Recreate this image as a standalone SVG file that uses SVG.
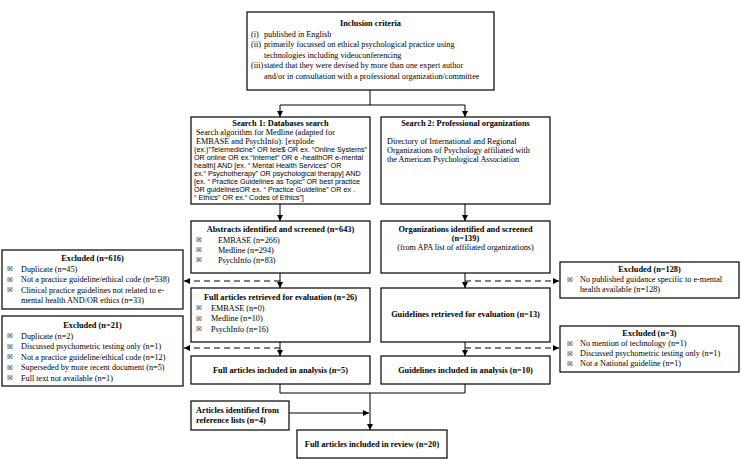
<svg xmlns="http://www.w3.org/2000/svg" width="742" height="460" viewBox="0 0 742 460">
<style>
.bx{fill:#fff;stroke:#000;stroke-width:1.2}
.t{font-family:"Liberation Serif",serif;font-size:8.2px;fill:#000}
.b{font-weight:bold;font-size:8.3px}
.s{font-family:"Liberation Sans",sans-serif;font-size:7.2px;fill:#000}
.c{text-anchor:middle}
.u{font-family:"DejaVu Sans",sans-serif;font-size:6.5px;fill:#000}
.ln{fill:none;stroke:#000;stroke-width:1}
.d{stroke-dasharray:6 4}
</style>
<defs>
<marker id="ah" viewBox="0 0 6 6" refX="6" refY="3" markerWidth="6" markerHeight="6" markerUnits="userSpaceOnUse" orient="auto">
<path d="M0,0 L6,3 L0,6 z" fill="#000"/>
</marker>
</defs>

<g id="connectors">
<path class="ln" d="M370,90 V105 M280,105 H465"/>
<path class="ln" d="M280,105 V117" marker-end="url(#ah)"/>
<path class="ln" d="M465,105 V117" marker-end="url(#ah)"/>
<path class="ln" d="M280,204 V221" marker-end="url(#ah)"/>
<path class="ln" d="M465,204 V221" marker-end="url(#ah)"/>
<path class="ln" d="M280,273 V288" marker-end="url(#ah)"/>
<path class="ln" d="M465,273 V288" marker-end="url(#ah)"/>
<path class="ln d" d="M280,281 H184" marker-end="url(#ah)"/>
<path class="ln d" d="M465,281 H559" marker-end="url(#ah)"/>
<path class="ln" d="M280,342 V356" marker-end="url(#ah)"/>
<path class="ln" d="M465,342 V356" marker-end="url(#ah)"/>
<path class="ln d" d="M280,348 H184" marker-end="url(#ah)"/>
<path class="ln d" d="M465,348 H559" marker-end="url(#ah)"/>
<path class="ln" d="M280,384 V393 H465 V384"/>
<path class="ln" d="M370,393 V430" marker-end="url(#ah)"/>
<path class="ln" d="M289,413 H369" marker-end="url(#ah)"/>
</g>

<g id="inclusion">
<rect class="bx" x="247" y="12" width="247" height="78"/>
<text class="t b c" x="370.5" y="25.5">Inclusion criteria</text>
<text class="t" x="251" y="36.5">(i)</text><text class="t" x="264" y="36.5">published in English</text>
<text class="t" x="251" y="47">(ii)</text><text class="t" x="264" y="47">primarily focussed on ethical psychological practice using</text>
<text class="t" x="264" y="57.5">technologies including videoconferencing</text>
<text class="t" x="251" y="68">(iii)</text><text class="t" x="264" y="68">stated that they were devised by more than one expert author</text>
<text class="t" x="264" y="78.5">and/or in consultation with a professional organization/committee</text>
</g>

<g id="search1">
<rect class="bx" x="191" y="117" width="179" height="87"/>
<text class="t b c" x="280.5" y="125.5">Search 1: Databases search</text>
<text class="t" x="196" y="134.5">Search algorithm for Medline (adapted for</text>
<text class="t" x="196" y="143.5">EMBASE and PsychInfo): [explode</text>
<text class="s" x="194" y="151.5">(ex.)“Telemedicine” OR tele$ OR ex. “Online Systems”</text>
<text class="s" x="194" y="159.5">OR online OR ex.“Internet” OR e -healthOR e-mental</text>
<text class="s" x="194" y="167.5">health] AND [ex. “ Mental Health Services” OR</text>
<text class="s" x="194" y="175.5">ex.“ Psychotherapy” OR psychological therapy] AND</text>
<text class="s" x="194" y="183.5">[ex. “ Practice Guidelines as Topic”  OR best practice</text>
<text class="s" x="194" y="191.5">OR guidelinesOR ex. “ Practice Guideline” OR ex .</text>
<text class="s" x="194" y="199.5">“ Ethics”  OR ex.“ Codes of Ethics”]</text>
</g>

<g id="search2">
<rect class="bx" x="381" y="117" width="169" height="87"/>
<text class="t b c" x="465.5" y="125.5">Search 2: Professional organizations</text>
<text class="t" x="387" y="143.5">Directory of International and Regional</text>
<text class="t" x="387" y="152.5">Organizations of Psychology affiliated with</text>
<text class="t" x="387" y="161.5">the American Psychological Association</text>
</g>

<g id="abstracts">
<rect class="bx" x="191" y="221" width="179" height="52"/>
<text class="t b c" x="280.5" y="232">Abstracts identified and screened (n=643)</text>
<text class="u" x="196" y="242">☒</text><text class="t" x="218" y="242.5">EMBASE (n=266)</text>
<text class="u" x="196" y="252">☒</text><text class="t" x="218" y="252.5">Medline (n=294)</text>
<text class="u" x="196" y="262">☒</text><text class="t" x="218" y="262.5">PsychInfo (n=83)</text>
</g>

<g id="organizations">
<rect class="bx" x="381" y="221" width="169" height="52"/>
<text class="t b c" x="465.5" y="232">Organizations identified and screened</text>
<text class="t b c" x="465.5" y="241">(n=139)</text>
<text class="t c" x="465.5" y="250">(from APA list of affiliated organizations)</text>
</g>

<g id="excluded616">
<rect class="bx" x="2" y="250" width="181" height="59"/>
<text class="t b c" x="92.5" y="261">Excluded (n=616)</text>
<text class="u" x="7" y="271">☒</text><text class="t" x="21" y="271.5">Duplicate (n=45)</text>
<text class="u" x="7" y="281.5">☒</text><text class="t" x="21" y="282">Not a practice guideline/ethical code (n=538)</text>
<text class="u" x="7" y="292">☒</text><text class="t" x="21" y="292.5">Clinical practice guidelines not related to e-</text>
<text class="t" x="21" y="303">mental health AND/OR ethics (n=33)</text>
</g>

<g id="excluded128">
<rect class="bx" x="560" y="262" width="179" height="36"/>
<text class="t b c" x="649.5" y="272">Excluded (n=128)</text>
<text class="u" x="567" y="281.5">☒</text><text class="t" x="580" y="282">No published guidance specific to e-mental</text>
<text class="t" x="580" y="291.5">health available (n=128)</text>
</g>

<g id="fullretrieved">
<rect class="bx" x="191" y="288" width="179" height="54"/>
<text class="t b c" x="280.5" y="299.5">Full articles retrieved for evaluation (n=26)</text>
<text class="u" x="196" y="310">☒</text><text class="t" x="211" y="310.5">EMBASE (n=0)</text>
<text class="u" x="196" y="320.5">☒</text><text class="t" x="211" y="321">Medline (n=10)</text>
<text class="u" x="196" y="331">☒</text><text class="t" x="211" y="331.5">PsychInfo (n=16)</text>
</g>

<g id="guidelinesretrieved">
<rect class="bx" x="381" y="288" width="169" height="54"/>
<text class="t b c" x="465.5" y="317">Guidelines retrieved for evaluation (n=13)</text>
</g>

<g id="excluded21">
<rect class="bx" x="2" y="316" width="181" height="70"/>
<text class="t b c" x="92.5" y="328">Excluded (n=21)</text>
<text class="u" x="7" y="338">☒</text><text class="t" x="21" y="338.5">Duplicate (n=2)</text>
<text class="u" x="7" y="348.5">☒</text><text class="t" x="21" y="349">Discussed psychometric testing only (n=1)</text>
<text class="u" x="7" y="359">☒</text><text class="t" x="21" y="359.5">Not a practice guideline/ethical code (n=12)</text>
<text class="u" x="7" y="369.5">☒</text><text class="t" x="21" y="370">Superseded by more recent document (n=5)</text>
<text class="u" x="7" y="380">☒</text><text class="t" x="21" y="380.5">Full text not available (n=1)</text>
</g>

<g id="excluded3">
<rect class="bx" x="560" y="326" width="179" height="46"/>
<text class="t b c" x="649.5" y="336">Excluded (n=3)</text>
<text class="u" x="567" y="345.5">☒</text><text class="t" x="580" y="346">No mention of technology (n=1)</text>
<text class="u" x="567" y="355.5">☒</text><text class="t" x="580" y="356">Discussed psychometric testing only  (n=1)</text>
<text class="u" x="567" y="365.5">☒</text><text class="t" x="580" y="366">Not a National guideline (n=1)</text>
</g>

<g id="fullincluded">
<rect class="bx" x="191" y="356" width="179" height="28"/>
<text class="t b c" x="280.5" y="373">Full articles included in analysis (n=5)</text>
</g>

<g id="guidelinesincluded">
<rect class="bx" x="381" y="356" width="169" height="28"/>
<text class="t b c" x="465.5" y="373">Guidelines included in analysis (n=10)</text>
</g>

<g id="reflists">
<rect class="bx" x="191" y="401" width="98" height="29"/>
<text class="t b" x="196" y="413">Articles identified from</text>
<text class="t b" x="196" y="423">reference lists (n=4)</text>
</g>

<g id="review">
<rect class="bx" x="297" y="430" width="150" height="28"/>
<text class="t b c" x="372" y="447">Full articles included in review (n=20)</text>
</g>
</svg>
